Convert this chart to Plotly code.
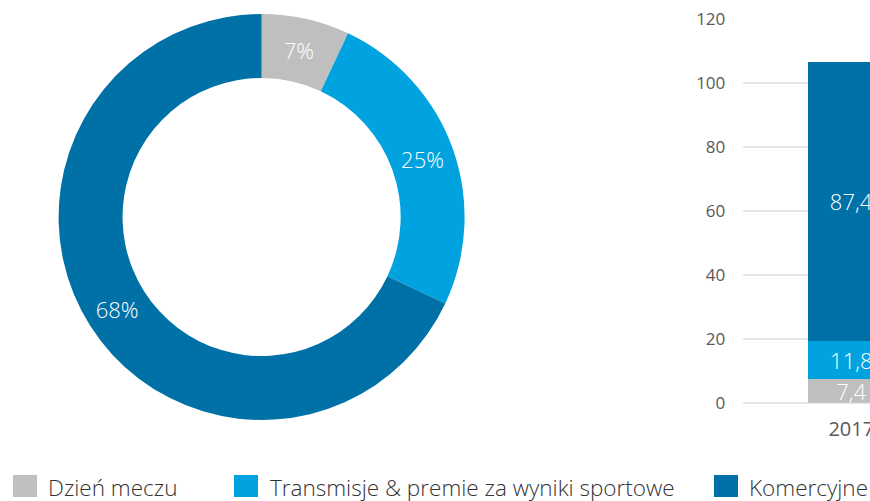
import plotly.graph_objects as go

# Data
categories = ["Dzień meczu", "Transmisje & premie za wyniki sportowe", "Komercyjne"]
share_pct = [7, 25, 68]
years = ["2017"]
val_matchday = [7.4]
val_broadcast = [11.8]
val_commercial = [87.4]
y_ticks = [0, 20, 40, 60, 80, 100, 120]

colors = ["#BFBFBF", "#00A3E0", "#0071A7"]
FONT = "Open Sans"
W, H = 870, 501

fig = go.Figure()

fig.add_trace(go.Pie(
    values=share_pct,
    labels=categories,
    text=[f"{v}%" for v in share_pct],
    textinfo="text",
    textposition="inside",
    insidetextorientation="horizontal",
    textfont=dict(family=FONT, size=22, color="white", weight=300),
    hole=0.685,
    sort=False,
    direction="clockwise",
    rotation=0,
    automargin=False,
    marker=dict(colors=colors, line=dict(width=0)),
    domain=dict(x=[58.6 / W, 464.6 / W], y=[(H - 420) / H, (H - 14) / H]),
    showlegend=False,
    hoverinfo="label+percent",
))

for name, vals, col in zip(categories, [val_matchday, val_broadcast, val_commercial], colors):
    fig.add_trace(go.Bar(
        x=years,
        y=vals,
        name=name,
        marker=dict(color=col, line=dict(width=0)),
        width=1,
        text=[f"{v:.1f}".replace(".", ",") for v in vals],
        texttemplate="%{text}",
        textposition="inside",
        insidetextanchor="middle",
        constraintext="none",
        textfont=dict(family=FONT, size=22, color="white", weight=300),
        showlegend=False,
    ))

fig.update_layout(
    template="none",
    width=W, height=H,
    autosize=False,
    margin=dict(l=0, r=0, t=0, b=0, pad=0),
    paper_bgcolor="white",
    plot_bgcolor="white",
    barmode="stack",
    showlegend=False,
    font=dict(family=FONT, color="#595959"),
    xaxis=dict(
        domain=[743.3 / W, 1.0],
        type="category",
        range=[-1.2558, 0.2175],
        automargin=False,
        showgrid=False,
        zeroline=False,
        showline=False,
        ticks="",
        tickfont=dict(family=FONT, size=20, color="#595959"),
        ticklabelstandoff=12,
        fixedrange=True,
    ),
    yaxis=dict(
        domain=[(H - 402.7) / H, (H - 18.7) / H],
        range=[0, 120],
        tickvals=y_ticks,
        automargin=False,
        showgrid=True,
        gridcolor="#E6E6E6",
        gridwidth=1.5,
        zeroline=True,
        zerolinecolor="#E6E6E6",
        zerolinewidth=1.5,
        showline=False,
        ticks="",
        tickfont=dict(family=FONT, size=17, color="#595959"),
        ticklabelstandoff=17,
        fixedrange=True,
    ),
)

# Custom legend (large square swatches as in the reference)
leg_sq_x = [13, 234, 714]
leg_txt_x = [47, 269, 748]
for name, col, sx, tx in zip(categories, colors, leg_sq_x, leg_txt_x):
    fig.add_shape(
        type="rect", xref="paper", yref="paper",
        x0=sx / W, x1=(sx + 24) / W,
        y0=(H - 497) / H, y1=(H - 475) / H,
        fillcolor=col, line=dict(width=0),
    )
    fig.add_annotation(
        x=tx / W, y=(H - 487) / H, xref="paper", yref="paper",
        text=name, showarrow=False, xanchor="left", yanchor="middle",
        borderpad=0,
        font=dict(family=FONT, size=22.5, color="#333333", weight=300),
    )

fig.write_html(
    "out.html",
    config={"displayModeBar": False},
    post_script="document.body.style.margin='0';document.body.style.overflow='hidden';",
)
